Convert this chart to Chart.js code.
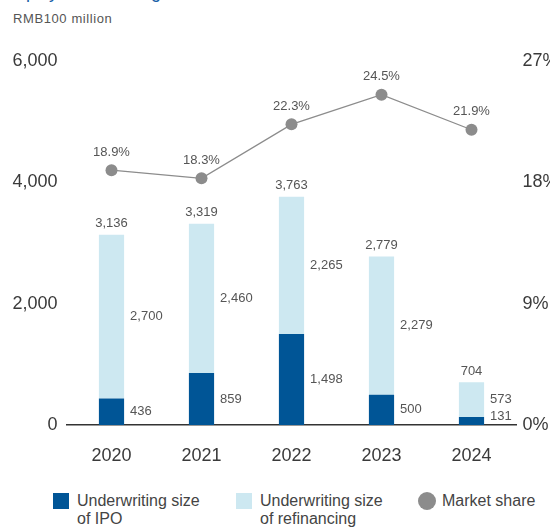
<!DOCTYPE html>
<html>
<head>
<meta charset="utf-8">
<script src="https://cdn.jsdelivr.net/npm/chart.js@4/dist/chart.umd.min.js"></script>
<style>
  body { margin: 0; background: #fff; font-family: "Liberation Sans", Arial, sans-serif; }
  #wrap { position: relative; width: 550px; height: 527px; overflow: hidden; }
  #title { position: absolute; left: 8px; top: -18px; font-size: 18px; color: #1a5fa8; white-space: nowrap; }
  #unit { position: absolute; left: 13px; top: 11px; font-size: 13px; letter-spacing: 0.6px; color: #555; }
  #chart { position: absolute; left: 0; top: 0; }
  .leg { position: absolute; font-size: 16px; line-height: 18px; color: #444; }
  .box { position: absolute; width: 16px; height: 16px; }
</style>
</head>
<body>
<div id="wrap">
  <div id="title">Equity underwriting size and market share</div>
  <div id="unit">RMB100 million</div>
  <canvas id="chart" width="550" height="470"></canvas>
  <div class="box" style="left:53px;top:493px;background:#005596"></div>
  <div class="leg" style="left:77px;top:492px">Underwriting size<br>of IPO</div>
  <div class="box" style="left:236px;top:493px;background:#cde8f1"></div>
  <div class="leg" style="left:260px;top:492px">Underwriting size<br>of refinancing</div>
  <div class="box" style="left:418px;top:492px;width:18px;height:18px;border-radius:50%;background:#8c8c8c"></div>
  <div class="leg" style="left:442px;top:492px">Market share</div>
</div>
<script>
var years = ["2020", "2021", "2022", "2023", "2024"]
var ipoSize = [436, 859, 1498, 500, 131]
var refiSize = [2700, 2460, 2265, 2279, 573]
var marketShare = [18.9, 18.3, 22.3, 24.5, 21.9]

var darkBlue = "#005596"
var lightBlue = "#cde8f1"
var grey = "#8c8c8c"

Chart.defaults.font.family = '"Liberation Sans", Arial, sans-serif'

function fmt(n) {
  return n.toLocaleString("en-US")
}

var labelPlugin = {
  id: "valueLabels",
  afterDatasetsDraw: function(chart) {
    var ctx = chart.ctx
    var ipoMeta = chart.getDatasetMeta(0)
    var refMeta = chart.getDatasetMeta(1)
    var shareMeta = chart.getDatasetMeta(2)
    var base = chart.scales.y.getPixelForValue(0)
    ctx.save()
    ctx.font = '13px "Liberation Sans", Arial, sans-serif'
    ctx.fillStyle = "#555"
    ctx.textBaseline = "middle"
    for (var i = 0; i < years.length; i++) {
      var ipo = ipoMeta.data[i]
      var ref = refMeta.data[i]
      var right = ipo.x + ipo.width / 2 + 6
      var ipoY = Math.min((ipo.y + base) / 2, base - 9)
      var refY = Math.min((ref.y + ipo.y) / 2, ipoY - 16)
      ctx.textAlign = "left"
      ctx.fillText(fmt(ipoSize[i]), right, ipoY)
      ctx.fillText(fmt(refiSize[i]), right, refY)
      ctx.textAlign = "center"
      ctx.fillText(fmt(ipoSize[i] + refiSize[i]), ref.x, ref.y - 11)
      var pt = shareMeta.data[i]
      ctx.fillText(marketShare[i].toFixed(1) + "%", pt.x, pt.y - 18)
    }
    ctx.restore()
  }
}

new Chart(document.getElementById("chart"), {
  type: "bar",
  data: {
    labels: years,
    datasets: [{
      label: "Underwriting size of IPO",
      data: ipoSize,
      backgroundColor: darkBlue,
      stack: "s",
      yAxisID: "y",
      order: 1
    }, {
      label: "Underwriting size of refinancing",
      data: refiSize,
      backgroundColor: lightBlue,
      stack: "s",
      yAxisID: "y",
      order: 1
    }, {
      type: "line",
      label: "Market share",
      data: marketShare,
      yAxisID: "y2",
      borderColor: grey,
      borderWidth: 1.3,
      backgroundColor: grey,
      pointBackgroundColor: grey,
      pointBorderWidth: 0,
      pointRadius: 6,
      fill: false,
      order: 0
    }]
  },
  options: {
    responsive: false,
    animation: false,
    devicePixelRatio: 1,
    layout: { padding: { top: 61, left: 0, right: 0, bottom: 0 } },
    datasets: { bar: { barPercentage: 0.28, categoryPercentage: 1 } },
    plugins: { legend: { display: false }, tooltip: { enabled: false } },
    scales: {
      x: {
        stacked: true,
        grid: { display: false, drawTicks: false },
        border: { display: true, color: "#333", width: 1.5 },
        ticks: { color: "#3a3a3a", font: { size: 18 }, padding: 20 },
        afterFit: function(s) { s.height = 45 }
      },
      y: {
        stacked: true,
        position: "left",
        min: 0,
        max: 6000,
        grid: { display: false, drawTicks: false },
        border: { display: false },
        ticks: {
          stepSize: 2000,
          color: "#3a3a3a",
          font: { size: 18 },
          padding: 9,
          callback: function(v) { return fmt(v) }
        },
        afterFit: function(s) { s.width = 66.5 }
      },
      y2: {
        position: "right",
        min: 0,
        max: 27,
        grid: { display: false, drawTicks: false },
        border: { display: false },
        ticks: {
          stepSize: 9,
          color: "#3a3a3a",
          font: { size: 18 },
          padding: 6,
          callback: function(v) { return v + "%" }
        },
        afterFit: function(s) { s.width = 33.5 }
      }
    }
  },
  plugins: [labelPlugin]
})
</script>
</body>
</html>
